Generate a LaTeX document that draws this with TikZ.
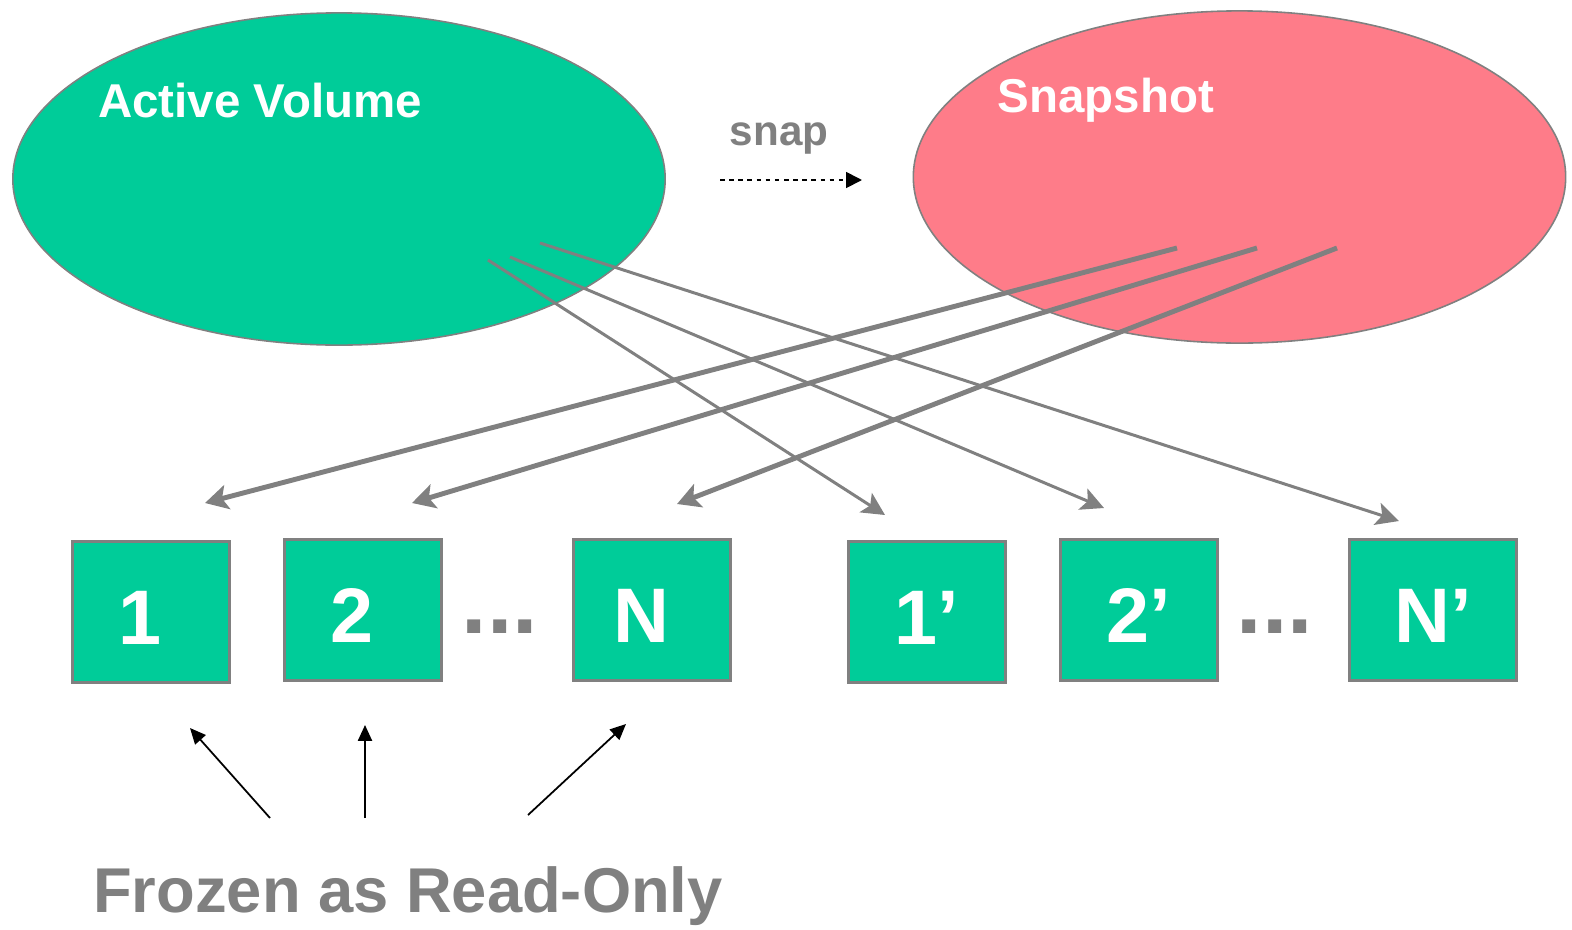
\documentclass[tikz,border=0pt]{standalone}
\usepackage{fontspec}
\setmainfont{Liberation Sans}
\usetikzlibrary{shapes.geometric,arrows.meta,positioning}

\definecolor{volgreen}{RGB}{0,204,153}
\definecolor{snappink}{RGB}{254,124,137}
\definecolor{linegray}{RGB}{128,128,128}

\newcommand{\blklabel}[1]{\raisebox{-9.3pt}[0pt][0pt]{#1}}

\begin{document}
\begin{tikzpicture}[
    x=0.01cm, y=-0.01cm,
    vol/.style={ellipse, draw=linegray, line width=0.45pt, minimum width=6.52cm, minimum height=3.32cm},
    blk/.style={rectangle, draw=linegray, line width=0.9pt, fill=volgreen, minimum width=1.57cm, minimum height=1.41cm, text=white, font=\fontsize{22}{26}\selectfont\bfseries},
    gap/.style={text=linegray, inner sep=0pt, font=\fontsize{26}{30}\selectfont\bfseries},
    title/.style={text=white, font=\fontsize{13.5}{16}\selectfont\bfseries},
    thinptr/.style={draw=linegray, line width=0.85pt, -{Stealth[length=6.5pt, width=6.5pt, inset=1.5pt]}},
    thickptr/.style={draw=linegray, line width=1.4pt, -{Stealth[length=6.5pt, width=7pt, inset=1.5pt]}},
    mark up/.style={draw=black, line width=0.5pt, -{Triangle[length=4.5pt, width=4pt]}}
]
\useasboundingbox (0,0) rectangle (1572,930);

% volumes
\node[vol, fill=volgreen] (active) at (339,179) {};
\node[vol, fill=snappink] (snapshot) at (1239.5,177) {};
\node[title] (activetxt) at (260,101) {Active Volume};
\node[title] (snaptxt) at (1106,100) {Snapshot};

\node[text=linegray, font=\fontsize{12}{14}\selectfont\bfseries] (snaplbl) at (779,138) {snap};
\coordinate (snapfrom) at (720,180);
\coordinate (snapto) at (862,180);
\draw[black, line width=0.5pt, dash pattern=on 1.3pt off 1.3pt, -{Triangle[length=4.5pt, width=4.5pt]}] (snapfrom) -- (snapto);

% blocks
\node[blk] (b1) at (151,612) {\blklabel{1\phantom{'}}};
\node[blk] (b2) at (363,610) {\blklabel{2\phantom{'}}};
\node[gap] (gapa) at (500,627) {...};
\node[blk] (bn) at (652,610) {\blklabel{N\phantom{'}}};
\node[blk] (c1) at (927,612) {\blklabel{1'}};
\node[blk] (c2) at (1139,610) {\blklabel{2'}};
\node[gap] (gapb) at (1275,627) {...};
\node[blk, minimum width=1.67cm] (cn) at (1433,610) {\blklabel{N'}};

% pointers out of the active volume
\coordinate (a1) at (488,260);
\coordinate (a2) at (510,257);
\coordinate (a3) at (540,243);
\coordinate (p1) at (885,515);
\coordinate (p2) at (1104,508);
\coordinate (p3) at (1399,521);
\draw[thinptr] (a1) -- (p1);
\draw[thinptr] (a2) -- (p2);
\draw[thinptr] (a3) -- (p3);

% pointers out of the snapshot
\coordinate (s1) at (1177,248);
\coordinate (s2) at (1257,248);
\coordinate (s3) at (1337,248);
\coordinate (q1) at (205,503);
\coordinate (q2) at (412,503);
\coordinate (q3) at (677,504);
\draw[thickptr] (s1) -- (q1);
\draw[thickptr] (s2) -- (q2);
\draw[thickptr] (s3) -- (q3);

% read-only marks
\node[text=linegray, font=\fontsize{18}{22}\selectfont\bfseries] (frozen) at (408,896) {Frozen as Read-Only};
\coordinate (f1) at (270,818);
\coordinate (f2) at (365,818);
\coordinate (f3) at (528,815);
\coordinate (g1) at (190,728);
\coordinate (g2) at (365,725);
\coordinate (g3) at (626,724);
\draw[mark up] (f1) -- (g1);
\draw[mark up] (f2) -- (g2);
\draw[mark up] (f3) -- (g3);

\end{tikzpicture}
\end{document}
